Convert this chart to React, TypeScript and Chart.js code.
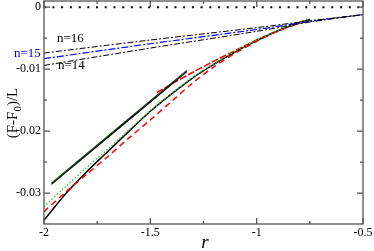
import React, { useEffect, useRef } from "react";
import { Chart, registerables } from "chart.js";
Chart.register(...registerables);

// ---- data ----
const rMain = [-2, -1.9, -1.8, -1.7, -1.6, -1.5, -1.4, -1.3, -1.2, -1.1, -1.0, -0.9, -0.8, -0.75];
const blackMain = [-0.0344, -0.0302, -0.0266, -0.0233, -0.02, -0.0168, -0.014, -0.0114, -0.0092, -0.0072, -0.0054, -0.0038, -0.0025, -0.002];
const redDashed = [-0.033, -0.0299, -0.027, -0.0241, -0.0211, -0.0182, -0.0152, -0.0122, -0.0096, -0.0074, -0.0055, -0.0039, -0.0026, -0.0021];
const greenDotted = [-0.0322, -0.029, -0.0259, -0.0229, -0.0198, -0.0167, -0.0139, -0.0113, -0.0091, -0.0071, -0.0053, -0.0038, -0.0025, -0.002];
const rUpper = [-1.47, -1.4, -1.3, -1.2, -1.1, -1.0, -0.9, -0.8, -0.75];
const redUpper = [-0.0138, -0.0124, -0.0105, -0.0087, -0.007, -0.0053, -0.0038, -0.0025, -0.002];
const rStraight = [-1.965, -1.328];
const darkGreenStraight = [-0.0284, -0.0102];
const blackStraight = [-0.0286, -0.0104];
const rN = [-2, -1.5, -1, -0.75, -0.5];
const n16 = [-0.0074, -0.0053, -0.0033, -0.0022, -0.0012];
const n15 = [-0.0083, -0.0059, -0.0036, -0.0023, -0.0012];
const n14 = [-0.0094, -0.0066, -0.0039, -0.0024, -0.0012];
const rZero = [-2, -0.5];
const zeroLine = [0, 0];
const xMajor = [-2, -1.5, -1, -0.5];
const xMinor = [-1.75, -1.25, -0.75];
const yMajor = [0, -0.01, -0.02, -0.03];
const yMinor = [-0.005, -0.015, -0.025];

const pts = (xs: number[], ys: number[]) => xs.map((x, i) => ({ x, y: ys[i] }));

const FRAME = "#555";

const decorPlugin = {
  id: "decor",
  afterDraw(chart: any) {
    const { ctx, chartArea: a, scales } = chart;
    const xs = scales.x;
    const ys = scales.y;
    ctx.save();
    ctx.strokeStyle = FRAME;
    ctx.lineWidth = 1.3;
    ctx.strokeRect(a.left, a.top, a.right - a.left, a.bottom - a.top);
    ctx.beginPath();
    const xt = (v: number, len: number) => {
      const p = xs.getPixelForValue(v);
      ctx.moveTo(p, a.bottom);
      ctx.lineTo(p, a.bottom - len);
      ctx.moveTo(p, a.top);
      ctx.lineTo(p, a.top + len);
    };
    const yt = (v: number, len: number) => {
      const p = ys.getPixelForValue(v);
      ctx.moveTo(a.left, p);
      ctx.lineTo(a.left + len, p);
      ctx.moveTo(a.right, p);
      ctx.lineTo(a.right - len, p);
    };
    xMajor.forEach((v) => xt(v, 6));
    xMinor.forEach((v) => xt(v, 3));
    yMajor.forEach((v) => yt(v, 6));
    yMinor.forEach((v) => yt(v, 3));
    ctx.stroke();

    // series labels
    ctx.font = "13px 'Liberation Serif'";
    ctx.textBaseline = "alphabetic";
    ctx.textAlign = "left";
    ctx.fillStyle = "#000";
    ctx.fillText("n=16", 57, 42);
    ctx.fillText("n=14", 58, 69);
    ctx.fillStyle = "#0000ff";
    ctx.fillText("n=15", 14, 57);

    // y title
    ctx.fillStyle = "#000";
    ctx.save();
    ctx.translate(17, 113);
    ctx.rotate(-Math.PI / 2);
    const big = "15px 'Liberation Serif'";
    const small = "11px 'Liberation Serif'";
    ctx.font = big;
    const w1 = ctx.measureText("(F-F").width;
    const w3 = ctx.measureText(")/L").width;
    ctx.font = small;
    const w2 = ctx.measureText("0").width;
    const x0 = -(w1 + w2 + w3) / 2;
    ctx.font = big;
    ctx.fillText("(F-F", x0, 0);
    ctx.font = small;
    ctx.fillText("0", x0 + w1, 4);
    ctx.font = big;
    ctx.fillText(")/L", x0 + w1 + w2, 0);
    ctx.restore();

    // x title
    ctx.font = "italic 19px 'Liberation Serif'";
    ctx.textAlign = "center";
    ctx.fillText("r", 205, 248);
    ctx.restore();
  },
};

export default function App() {
  const ref = useRef<HTMLCanvasElement>(null);
  useEffect(() => {
    if (!ref.current) return;
    const line = (data: any, color: string, dash: number[], width: number) => ({
      data,
      borderColor: color,
      borderDash: dash,
      borderWidth: width,
      pointRadius: 0,
      tension: 0.3,
      fill: false,
    });
    const chart = new Chart(ref.current, {
      type: "line",
      data: {
        datasets: [
          line(pts(rZero, zeroLine), "#000", [2, 6.7], 2),
          line(pts(rN, n16), "#000", [6, 2, 2, 2], 1),
          line(pts(rN, n14), "#000", [6, 2, 2, 2], 1),
          line(pts(rN, n15), "#0000ff", [7, 2, 2, 2], 1.2),
          line(pts(rStraight, blackStraight), "#000", [], 1.2),
          line(pts(rStraight, darkGreenStraight), "#0b3d0b", [], 1.2),
          line(pts(rMain, greenDotted), "#33cc33", [1.5, 2], 1.3),
          line(pts(rMain, redDashed), "#ff0000", [6, 4], 1.5),
          line(pts(rMain, blackMain), "#000", [], 1.5),
          line(pts(rUpper, redUpper), "#ff0000", [7, 2], 1.5),
        ],
      },
      options: {
        responsive: false,
        animation: false,
        layout: { padding: { top: 1, right: 11, left: 0, bottom: 0 } },
        plugins: { legend: { display: false }, tooltip: { enabled: false } },
        scales: {
          x: {
            type: "linear",
            min: -2,
            max: -0.5,
            afterBuildTicks: (s: any) => {
              s.ticks = xMajor.map((v) => ({ value: v }));
            },
            afterFit: (s: any) => {
              s.height = 27;
              s.paddingLeft = 0;
              s.paddingRight = 0;
            },
            grid: { display: true, drawOnChartArea: false, drawTicks: false },
            border: { display: false },
            ticks: {
              padding: 2,
              color: "#000",
              font: { family: "'Liberation Serif'", size: 12 },
              maxRotation: 0,
              callback: (v: any) => String(v),
            },
          },
          y: {
            type: "linear",
            min: -0.035,
            max: 0.001,
            afterBuildTicks: (s: any) => {
              s.ticks = yMajor.map((v) => ({ value: v }));
            },
            afterFit: (s: any) => {
              s.width = 44;
              s.paddingTop = 0;
              s.paddingBottom = 0;
            },
            grid: { display: true, drawOnChartArea: false, drawTicks: false },
            border: { display: false },
            ticks: {
              padding: 3,
              color: "#000",
              font: { family: "'Liberation Serif'", size: 12 },
              callback: (v: any) => (v === 0 ? "0" : String(Math.round(v * 100) / 100)),
            },
          },
        },
      },
      plugins: [decorPlugin],
    });
    return () => chart.destroy();
  }, []);
  return (
    <div style={{ position: "absolute", left: 0, top: 0, width: 374, height: 251, background: "#fff" }}>
      <canvas ref={ref} width={374} height={251} style={{ display: "block" }} />
    </div>
  );
}
